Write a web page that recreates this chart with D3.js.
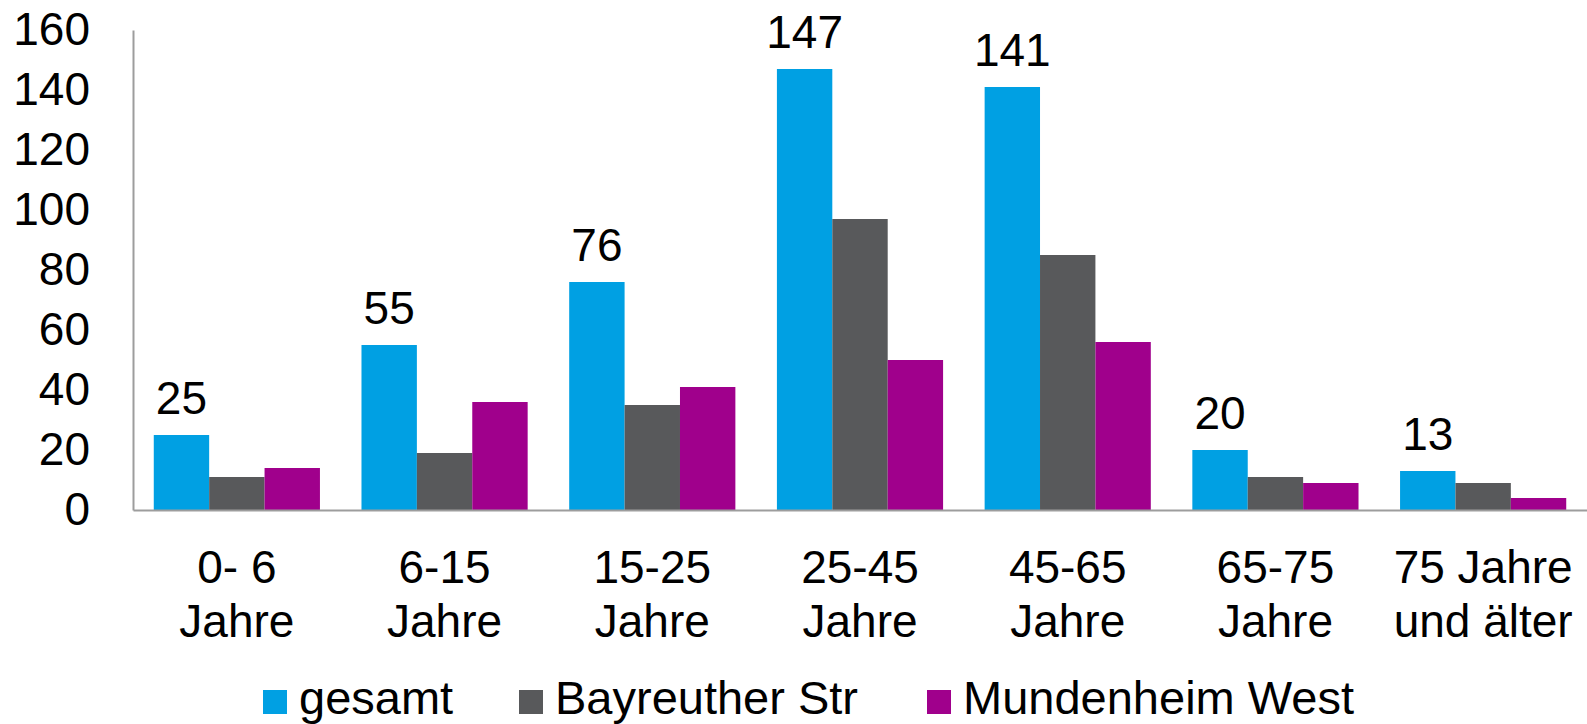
<!DOCTYPE html>
<html>
<head>
<meta charset="utf-8">
<script src="https://cdn.jsdelivr.net/npm/d3@7"></script>
<style>
  body { margin: 0; background: #fff; }
  svg text { font-family: "Liberation Sans", Arial, sans-serif; fill: #000; }
</style>
</head>
<body>
<svg id="chart" width="1587" height="724"></svg>
<script>
"use strict";

const categories = [
  ["0- 6", "Jahre"],
  ["6-15", "Jahre"],
  ["15-25", "Jahre"],
  ["25-45", "Jahre"],
  ["45-65", "Jahre"],
  ["65-75", "Jahre"],
  ["75 Jahre", "und älter"]
];
const seriesNames = ["gesamt", "Bayreuther Str", "Mundenheim West"];
const gesamt = [25, 55, 76, 147, 141, 20, 13];
const bayreuther = [11, 19, 35, 97, 85, 11, 9];
const mundenheim = [14, 36, 41, 50, 56, 9, 4];
const yTicks = [0, 20, 40, 60, 80, 100, 120, 140, 160];
const colors = ["#00a0e3", "#58595b", "#a0008c"];

const series = [gesamt, bayreuther, mundenheim];
const width = 1587;
const margin = { left: 133, right: 0, top: 30, bottom: 214 };
const height = 724;

const svg = d3.select("svg#chart");

const x = d3
  .scaleBand()
  .domain(categories.map((d, i) => i))
  .range([margin.left, width - margin.right])
  .paddingInner(0.2)
  .paddingOuter(0.1);

const xs = d3
  .scaleBand()
  .domain(seriesNames)
  .range([0, x.bandwidth()]);

const y = d3
  .scaleLinear()
  .domain([0, 160])
  .range([height - margin.bottom, margin.top]);

// Bars
const groups = svg
  .selectAll(".group")
  .data(categories)
  .enter()
  .append("g")
  .attr("class", "group")
  .attr("transform", (d, i) => `translate(${x(i)},0)`);

groups
  .selectAll("rect")
  .data((d, i) => seriesNames.map((name, s) => ({ name, s, value: series[s][i] })))
  .enter()
  .append("rect")
  .attr("x", (d) => xs(d.name))
  .attr("width", xs.bandwidth())
  .attr("y", (d) => y(d.value))
  .attr("height", (d) => y(0) - y(d.value))
  .attr("fill", (d) => colors[d.s]);

// Data labels for "gesamt"
groups
  .append("text")
  .attr("x", xs("gesamt") + xs.bandwidth() / 2)
  .attr("y", (d, i) => y(gesamt[i]) - 21)
  .attr("text-anchor", "middle")
  .attr("font-size", 46)
  .text((d, i) => gesamt[i]);

// Y axis
const yAxis = svg
  .append("g")
  .attr("transform", `translate(${margin.left},0)`)
  .call(
    d3.axisLeft(y).tickValues(yTicks).tickSize(0).tickPadding(43)
  );
yAxis.select(".domain").attr("stroke", "#9d9d9d").attr("stroke-width", 2);
yAxis
  .selectAll(".tick text")
  .attr("font-size", 46)
  .attr("font-family", "Liberation Sans, Arial, sans-serif")
  .attr("fill", "#000");

// X axis
const xAxis = svg
  .append("g")
  .attr("transform", `translate(0,${y(0)})`)
  .call(d3.axisBottom(x).tickSize(0).tickSizeOuter(0).tickFormat(""));
xAxis.select(".domain").attr("stroke", "#9d9d9d").attr("stroke-width", 2);
xAxis.selectAll(".tick text").remove();
xAxis
  .selectAll(".tick")
  .append("text")
  .attr("text-anchor", "middle")
  .attr("font-size", 46)
  .attr("fill", "#000")
  .each(function (d) {
    const t = d3.select(this);
    categories[d].forEach((line, k) => {
      t.append("tspan").attr("x", 0).attr("y", 73 + k * 54).text(line);
    });
  });

// Legend
const legendPos = [263, 519, 927];
const legend = svg
  .selectAll(".legend")
  .data(seriesNames)
  .enter()
  .append("g")
  .attr("class", "legend")
  .attr("transform", (d, i) => `translate(${legendPos[i]},690)`);

legend
  .append("rect")
  .attr("width", 24)
  .attr("height", 24)
  .attr("fill", (d, i) => colors[i]);

legend
  .append("text")
  .attr("x", 36)
  .attr("y", 24)
  .attr("font-size", 47)
  .text((d) => d);
</script>
</body>
</html>
